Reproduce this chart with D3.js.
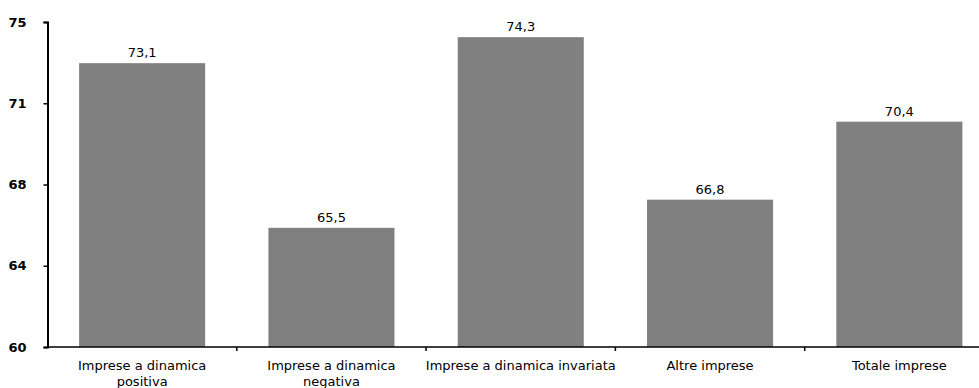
<!DOCTYPE html>
<html>
<head>
<meta charset="utf-8">
<script src="https://cdn.jsdelivr.net/npm/d3@7"></script>
<style>
  html, body { margin: 0; padding: 0; background: #fff; }
  svg { display: block; }
  text { font-family: "DejaVu Sans", sans-serif; fill: #000; }
</style>
</head>
<body>
<svg id="chart" width="979" height="388"></svg>
<script>
// Categories (line breaks mark where the axis label wraps)
const categories = [
  "Imprese a dinamica\npositiva",
  "Imprese a dinamica\nnegativa",
  "Imprese a dinamica invariata",
  "Altre imprese",
  "Totale imprese"
];
const values = [73.1, 65.5, 74.3, 66.8, 70.4];
const valueLabels = ["73,1", "65,5", "74,3", "66,8", "70,4"];
const yTickValues = [60, 63.75, 67.5, 71.25, 75];
const yTickLabels = ["60", "64", "68", "71", "75"];

const svg = d3.select("#chart");
const plotLeft = 47.5, plotRight = 994, plotTop = 22, plotBottom = 347;

const x = d3.scaleBand()
  .domain(categories)
  .range([plotLeft, plotRight])
  .paddingInner(0.334)
  .paddingOuter(0.167);

const y = d3.scaleLinear()
  .domain([60, 75])
  .range([plotBottom, plotTop]);

// Bars
svg.append("g")
  .selectAll("rect")
  .data(values)
  .join("rect")
  .attr("x", (d, i) => x(categories[i]))
  .attr("y", d => y(d))
  .attr("width", x.bandwidth())
  .attr("height", d => y(60) - y(d))
  .attr("fill", "#808080");

// Value labels above bars
svg.append("g")
  .selectAll("text")
  .data(values)
  .join("text")
  .attr("x", (d, i) => x(categories[i]) + x.bandwidth() / 2)
  .attr("y", d => y(d) - 6)
  .attr("text-anchor", "middle")
  .attr("font-size", 13)
  .text((d, i) => valueLabels[i]);

// Y axis
const yAxis = d3.axisLeft(y)
  .tickValues(yTickValues)
  .tickFormat((d, i) => yTickLabels[i])
  .tickSize(4)
  .tickPadding(17);
const gy = svg.append("g")
  .attr("transform", `translate(${plotLeft},0)`)
  .call(yAxis);
gy.select(".domain").attr("stroke", "#000").attr("stroke-width", 2);
gy.selectAll(".tick line").attr("stroke", "#000").attr("stroke-width", 1.5);
gy.selectAll(".tick text")
  .attr("font-size", 13)
  .attr("font-weight", "bold")
  .attr("font-family", "DejaVu Sans, sans-serif")
  .attr("fill", "#000");

// X axis: baseline with tick marks at category boundaries
const boundaries = categories.slice(1)
  .map(c => x(c) - x.step() * x.paddingInner() / 2)
  .concat([plotRight]);
const gx = svg.append("g");
gx.append("line")
  .attr("x1", plotLeft).attr("x2", plotRight)
  .attr("y1", plotBottom).attr("y2", plotBottom)
  .attr("stroke", "#000").attr("stroke-width", 1.5);
gx.selectAll("line.tick")
  .data(boundaries)
  .join("line")
  .attr("class", "tick")
  .attr("x1", d => d).attr("x2", d => d)
  .attr("y1", plotBottom).attr("y2", plotBottom + 4)
  .attr("stroke", "#000").attr("stroke-width", 1.5);

// Category labels
const labels = gx.selectAll("text")
  .data(categories)
  .join("text")
  .attr("text-anchor", "middle")
  .attr("font-size", 13)
  .attr("transform", d => `translate(${x(d) + x.bandwidth() / 2},${plotBottom + 23})`);
labels.selectAll("tspan")
  .data(d => d.split("\n"))
  .join("tspan")
  .attr("x", 0)
  .attr("y", (d, i) => i * 16)
  .text(d => d);
</script>
</body>
</html>
